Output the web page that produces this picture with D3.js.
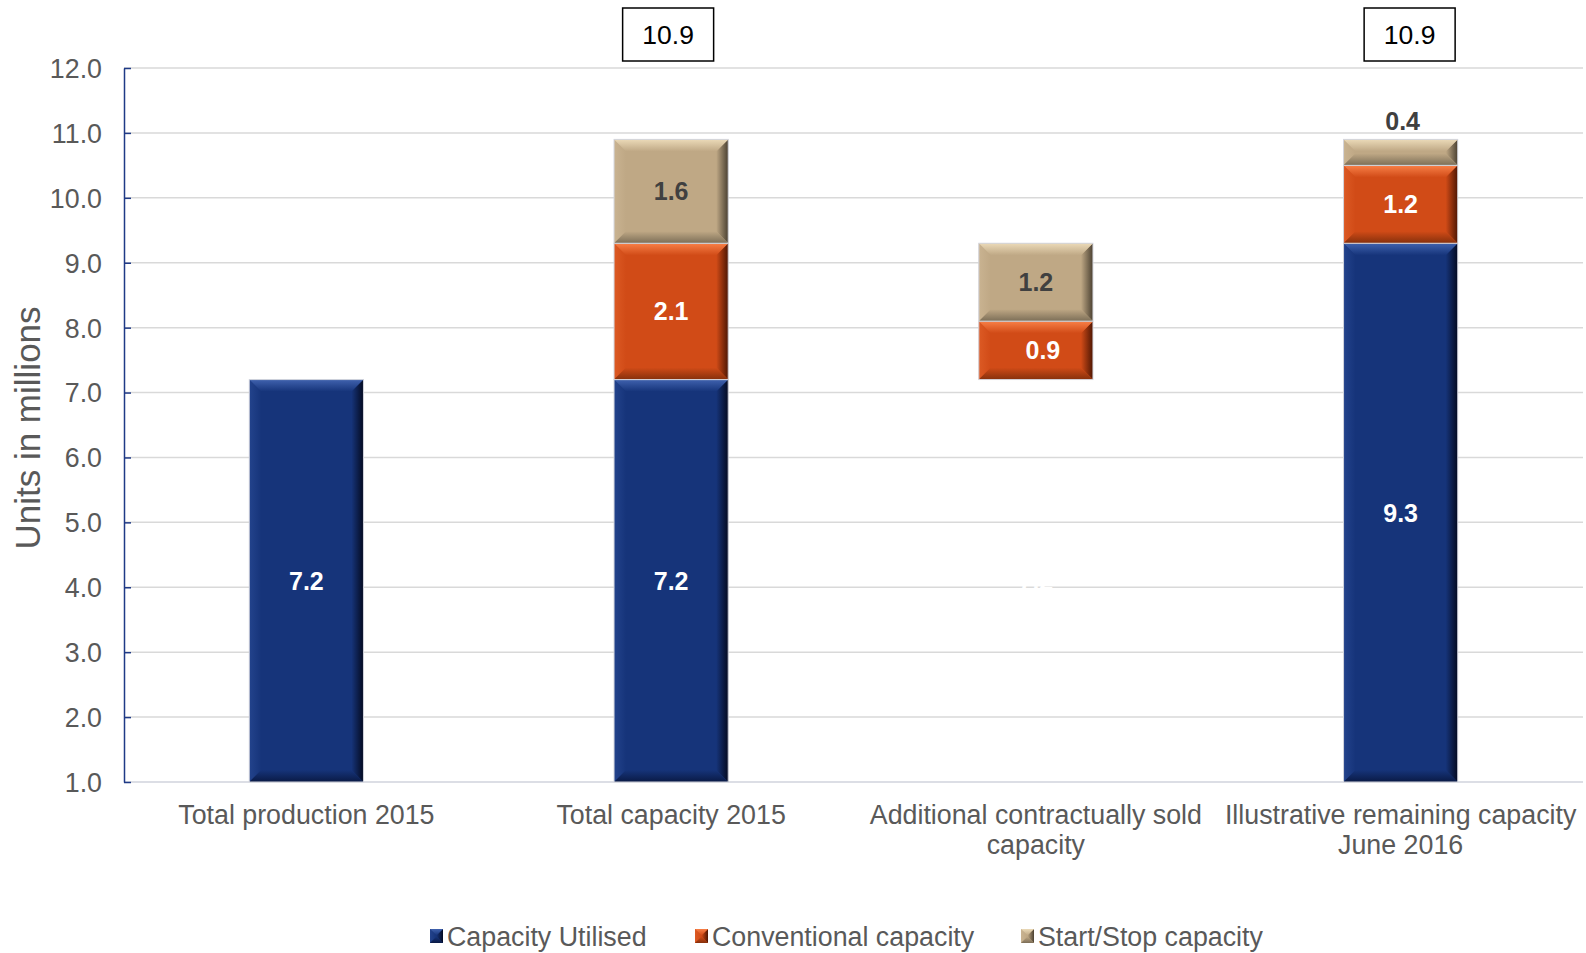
<!DOCTYPE html>
<html>
<head>
<meta charset="utf-8">
<script src="https://cdn.jsdelivr.net/npm/d3@7"></script>
<style>
  html, body { margin: 0; padding: 0; background: #fff; }
  svg { display: block; font-family: "Liberation Sans", Arial, sans-serif; }
</style>
</head>
<body>
<svg id="chart" width="1586" height="953"></svg>
<script>
// Capacity chart data (units in millions)
const categories = [
  ["Total production 2015"],
  ["Total capacity 2015"],
  ["Additional contractually sold", "capacity"],
  ["Illustrative remaining capacity", "June 2016"]
];
const capacityUtilised = [7.2, 7.2, 7.2, 9.3];
const utilisedHidden = [false, false, true, false]; // waterfall base for the third column
const conventionalCapacity = [0, 2.1, 0.9, 1.2];
const startStopCapacity = [0, 1.6, 1.2, 0.4];
const totalCapacity = [null, 10.9, null, 10.9];
const yTickValues = [1, 2, 3, 4, 5, 6, 7, 8, 9, 10, 11, 12];
const seriesNames = ["Capacity Utilised", "Conventional capacity", "Start/Stop capacity"];

const palette = [
  { main: "#16347A", top: "#4062AE", left: "#23438C", right: "#040A20", bottom: "#0A1A45", text: "#ffffff" },
  { main: "#D14B17", top: "#F88048", left: "#DC5A24", right: "#4E1603", bottom: "#86300C", text: "#ffffff" },
  { main: "#BFA885", top: "#EBDAB8", left: "#C9B391", right: "#4A4031", bottom: "#7C6E57", text: "#404040" }
];

const textSize = 26.8;
const svg = d3.select("#chart");
const margin = { left: 124, right: 1583, top: 68, bottom: 782 };

const x = d3.scaleBand().domain(d3.range(categories.length)).range([margin.left, margin.right]).padding(0);
const barWidth = x.bandwidth() * 0.313;
const y = d3.scaleLinear().domain([1, 12]).range([margin.bottom, margin.top]);

const defs = svg.append("defs");
palette.forEach((c, i) => {
  const mk = (id, x1, y1, x2, y2, c1, c2) => {
    const g = defs.append("linearGradient").attr("id", id)
      .attr("x1", x1).attr("y1", y1).attr("x2", x2).attr("y2", y2);
    g.append("stop").attr("offset", "0%").attr("stop-color", c1);
    g.append("stop").attr("offset", "100%").attr("stop-color", c2);
  };
  mk(`g-top-${i}`, 0, 0, 0, 1, c.top, c.main);
  mk(`g-left-${i}`, 0, 0, 1, 0, c.left, c.main);
  mk(`g-right-${i}`, 0, 0, 1, 0, c.main, c.right);
  mk(`g-bottom-${i}`, 0, 0, 0, 1, c.main, c.bottom);
});

// gridlines
svg.append("g").selectAll("line").data(yTickValues.slice(1)).join("line")
  .attr("x1", margin.left).attr("x2", margin.right)
  .attr("y1", d => y(d)).attr("y2", d => y(d))
  .attr("stroke", "#D9D9D9").attr("stroke-width", 1.5);
svg.append("line")
  .attr("x1", margin.left).attr("x2", margin.right)
  .attr("y1", y(1)).attr("y2", y(1))
  .attr("stroke", "#D0D3DC").attr("stroke-width", 1.5);

// y axis
const yAxis = svg.append("g").attr("transform", `translate(${margin.left},0)`)
  .call(d3.axisRight(y).tickValues(yTickValues).tickFormat(d3.format(".1f")).tickSize(7).tickSizeOuter(0));
yAxis.select(".domain").attr("stroke", "#1F3A86").attr("stroke-width", 1.5);
yAxis.selectAll(".tick line").attr("stroke", "#1F3A86").attr("stroke-width", 1.5);
yAxis.selectAll(".tick text")
  .attr("x", -22).attr("text-anchor", "end").attr("dy", "0.35em")
  .attr("fill", "#595959").attr("font-size", textSize)
  .style("font-family", "'Liberation Sans', Arial, sans-serif");

// y title
svg.append("text")
  .attr("transform", `translate(40, ${(margin.top + margin.bottom) / 2 + 3}) rotate(-90)`)
  .attr("text-anchor", "middle").attr("fill", "#595959")
  .attr("font-size", 35).text("Units in millions");

function bevelBar(g, x0, y0, w, h, si) {
  const b = Math.min(12, h / 2.2, w / 2);
  const pts = {
    top: [[x0, y0], [x0 + w, y0], [x0 + w - b, y0 + b], [x0 + b, y0 + b]],
    bottom: [[x0, y0 + h], [x0 + w, y0 + h], [x0 + w - b, y0 + h - b], [x0 + b, y0 + h - b]],
    left: [[x0, y0], [x0 + b, y0 + b], [x0 + b, y0 + h - b], [x0, y0 + h]],
    right: [[x0 + w, y0], [x0 + w - b, y0 + b], [x0 + w - b, y0 + h - b], [x0 + w, y0 + h]]
  };
  g.append("rect").attr("x", x0).attr("y", y0).attr("width", w).attr("height", h)
    .attr("fill", palette[si].main);
  ["left", "right", "bottom", "top"].forEach(k => {
    g.append("polygon").attr("points", pts[k].map(p => p.join(",")).join(" "))
      .attr("fill", `url(#g-${k}-${si})`);
  });
  return g.append("rect").attr("x", x0).attr("y", y0).attr("width", w).attr("height", h)
    .attr("fill", "none").attr("stroke", "#D4D6DE").attr("stroke-width", 1);
}

const barsG = svg.append("g");
const labelsG = svg.append("g");
const fmt = d3.format(".1f");
const totalBoxShift = [0, -3, 0, 9];
const labelShift = [[0, 0, 0], [0, 0, 0], [0, 7, 0], [0, 0, 2]];

categories.forEach((cat, i) => {
  const cx = x(i) + x.bandwidth() / 2;
  const x0 = cx - barWidth / 2;
  const segs = [
    { v0: 0, v1: capacityUtilised[i], si: 0, hidden: utilisedHidden[i], val: capacityUtilised[i] },
    { v0: capacityUtilised[i], v1: capacityUtilised[i] + conventionalCapacity[i], si: 1, val: conventionalCapacity[i] },
    { v0: capacityUtilised[i] + conventionalCapacity[i], v1: capacityUtilised[i] + conventionalCapacity[i] + startStopCapacity[i], si: 2, val: startStopCapacity[i] }
  ];
  segs.forEach(s => {
    if (s.val <= 0) return;
    const lo = Math.max(s.v0, y.domain()[0]);
    const yTop = y(s.v1), yBot = y(lo);
    const h = yBot - yTop;
    if (!s.hidden) bevelBar(barsG, x0, yTop, barWidth, h, s.si);
    const small = h < 32;
    labelsG.append("text")
      .attr("x", cx + labelShift[i][s.si])
      .attr("y", small ? yTop - 9 : (yTop + yBot) / 2)
      .attr("dy", small ? 0 : "0.36em")
      .attr("text-anchor", "middle")
      .attr("font-weight", "bold").attr("font-size", 25)
      .attr("fill", s.hidden ? "#ffffff" : (small ? "#404040" : palette[s.si].text))
      .text(fmt(s.val));
  });
  if (totalCapacity[i] != null) {
    const bw = 91, bh = 53;
    const bx = cx + totalBoxShift[i];
    const g = svg.append("g");
    g.append("rect").attr("x", bx - bw / 2).attr("y", 8).attr("width", bw).attr("height", bh)
      .attr("fill", "#fff").attr("stroke", "#000").attr("stroke-width", 1.5);
    g.append("text").attr("x", bx).attr("y", 8 + bh / 2).attr("dy", "0.36em")
      .attr("text-anchor", "middle").attr("font-size", 26.5).attr("fill", "#000")
      .text(fmt(totalCapacity[i]));
  }
  // category label
  cat.forEach((line, li) => {
    svg.append("text").attr("x", cx).attr("y", 824 + li * 30)
      .attr("text-anchor", "middle").attr("fill", "#595959").attr("font-size", textSize)
      .text(line);
  });
});

// legend
const legendX = [430, 695, 1021];
seriesNames.forEach((name, i) => {
  const g = svg.append("g").attr("transform", `translate(${legendX[i]},929)`);
  bevelBar(g, 0, 0, 13, 14, i).attr("stroke", "none");
  g.append("text").attr("x", 17).attr("y", 7).attr("dy", "0.36em")
    .attr("fill", "#595959").attr("font-size", textSize).text(name);
});
</script>
</body>
</html>
